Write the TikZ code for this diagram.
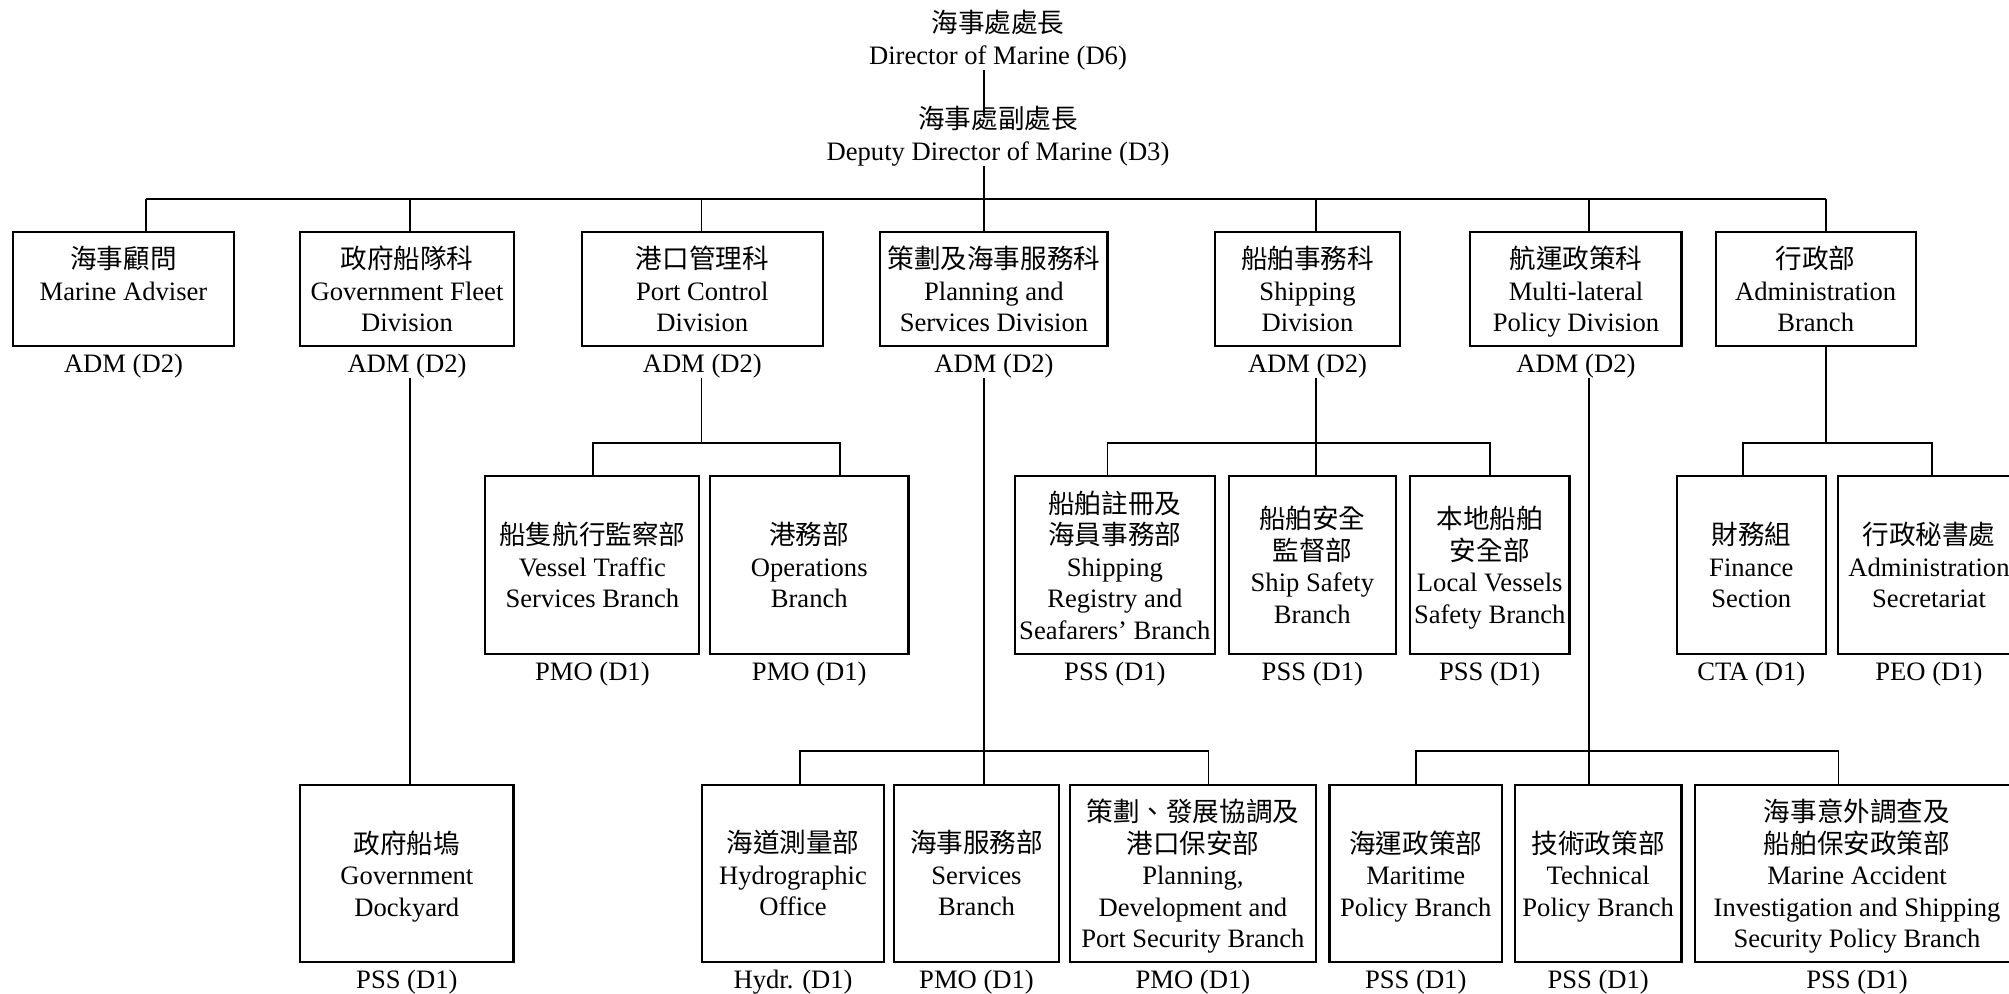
\documentclass[tikz,border=0pt]{standalone}
\usepackage{fontspec}
\setmainfont{Liberation Serif}
\newfontfamily\cjk{Noto Sans CJK TC}
\newcommand\zh[1]{{\cjk #1}}
\newcommand\nd[1]{\raisebox{0pt}[\height][0pt]{#1}}
\newcommand\mkbox[6]{%
  \pgfmathsetmacro\bxcx{(#2+#3)/2}%
  \pgfmathsetmacro\bxcy{(#4+#5)/2}%
  \pgfmathsetmacro\bxw{(#3-#2)/2}%
  \pgfmathsetmacro\bxh{(#5-#4)/2}%
  \node[orgbox, minimum width=\bxw pt, minimum height=\bxh pt] (#1) at (\bxcx,\bxcy) {#6};}
\newcommand\mklbl[3]{\node[lbl] (#1) at ([yshift=-9.5pt]#2.south) {#3};}
\tikzset{
  every node/.style={font=\fontsize{13.3pt}{15.75pt}\selectfont},
  conn/.style={line width=0.95pt},
  orgbox/.style={draw, line width=1.05pt, align=center, inner sep=0pt},
  txt/.style={align=center, inner sep=0pt, outer sep=0pt},
  lbl/.style={inner sep=0pt, outer sep=0pt}
}
\begin{document}
\begin{tikzpicture}[x=0.5pt, y=-0.5pt]
\useasboundingbox (0,0) rectangle (2009,993);
\clip (0,0) rectangle (2009,993);
\fill[white] (0,0) rectangle (2009,993);

% top
\node[txt] (dir) at (998,40) {\zh{海事處處長}\\Director of Marine (D6)};
\node[txt] (dep) at (998,136) {\zh{海事處副處長}\\Deputy Director of Marine (D3)};

% row 1
\mkbox{n1}{13}{234}{232}{346}{\zh{海事顧問}\\Marine Adviser\\\mbox{}}
\mkbox{n2}{300}{514}{232}{346}{\zh{政府船隊科}\\Government Fleet\\Division}
\mkbox{n3}{581.6}{823}{232}{346}{\zh{港口管理科}\\Port Control\\Division}
\mkbox{n4}{880.4}{1107.5}{232}{346}{\zh{策劃及海事服務科}\\Planning and\\Services Division}
\mkbox{n5}{1215}{1400}{232}{346}{\zh{船舶事務科}\\Shipping\\Division}
\mkbox{n6}{1470.4}{1681.5}{232}{346}{\zh{航運政策科}\\Multi-lateral\\\nd{Policy Division}}
\mkbox{n7}{1715.6}{1915.7}{232}{346}{\zh{行政部}\\Administration\\Branch}
\mklbl{n1l}{n1}{ADM (D2)}
\mklbl{n2l}{n2}{ADM (D2)}
\mklbl{n3l}{n3}{ADM (D2)}
\mklbl{n4l}{n4}{ADM (D2)}
\mklbl{n5l}{n5}{ADM (D2)}
\mklbl{n6l}{n6}{ADM (D2)}

% row 2
\mkbox{r2a}{485.4}{699.4}{476}{654}{\zh{船隻航行監察部}\\Vessel Traffic\\Services Branch}
\mkbox{r2b}{710}{908.5}{476}{654}{\zh{港務部}\\Operations\\Branch}
\mkbox{r2c}{1014.8}{1214.9}{476}{654}{\zh{船舶註冊及}\\\zh{海員事務部}\\Shipping\\Registry and\\Seafarers’ Branch}
\mkbox{r2d}{1229}{1395.7}{476}{654}{\zh{船舶安全}\\\zh{監督部}\\Ship Safety\\Branch}
\mkbox{r2e}{1409.9}{1569.5}{476}{654}{\zh{本地船舶}\\\zh{安全部}\\Local Vessels\\\nd{Safety Branch}}
\mkbox{r2f}{1677}{1825.6}{476}{654}{\zh{財務組}\\Finance\\Section}
\mkbox{r2g}{1838}{2020}{476}{654}{\zh{行政秘書處}\\Administration\\Secretariat}
\mklbl{r2al}{r2a}{PMO (D1)}
\mklbl{r2bl}{r2b}{PMO (D1)}
\mklbl{r2cl}{r2c}{PSS (D1)}
\mklbl{r2dl}{r2d}{PSS (D1)}
\mklbl{r2el}{r2e}{PSS (D1)}
\mklbl{r2fl}{r2f}{CTA (D1)}
\mklbl{r2gl}{r2g}{PEO (D1)}

% row 3
\mkbox{g1}{300.2}{513.5}{785}{961.7}{\zh{政府船塢}\\Government\\\nd{Dockyard}}
\mkbox{r3a}{702.2}{883.9}{785}{961.7}{\zh{海道測量部}\\Hydrographic\\Office}
\mkbox{r3b}{893.7}{1059.3}{785}{961.7}{\zh{海事服務部}\\Services\\Branch}
\mkbox{r3c}{1069.8}{1316}{785}{961.7}{\zh{策劃、發展協調及}\\\zh{港口保安部}\\Planning,\\Development and\\\nd{Port Security Branch}}
\mkbox{r3d}{1329.5}{1502}{785}{961.7}{\zh{海運政策部}\\Maritime\\\nd{Policy Branch}}
\mkbox{r3e}{1514.8}{1681.5}{785}{961.7}{\zh{技術政策部}\\Technical\\\nd{Policy Branch}}
\mkbox{r3f}{1695}{2019}{785}{961.7}{\zh{海事意外調查及}\\\zh{船舶保安政策部}\\Marine Accident\\Investigation and Shipping\\\nd{Security Policy Branch}}
\mklbl{g1l}{g1}{PSS (D1)}
\mklbl{r3al}{r3a}{Hydr. (D1)}
\mklbl{r3bl}{r3b}{PMO (D1)}
\mklbl{r3cl}{r3c}{PMO (D1)}
\mklbl{r3dl}{r3d}{PSS (D1)}
\mklbl{r3el}{r3e}{PSS (D1)}
\mklbl{r3fl}{r3f}{PSS (D1)}

% bus coordinates
\coordinate (b1) at (146,199);
\coordinate (b2) at (410,199);
\coordinate (b3) at (701.5,199);
\coordinate (b4) at (984,199);
\coordinate (b5) at (1316,199);
\coordinate (b6) at (1588.8,199);
\coordinate (b7) at (1825.6,199);
\coordinate (p3a) at (592.8,442.7);
\coordinate (p3b) at (839.7,442.7);
\coordinate (p5a) at (1107.5,442.7);
\coordinate (p5c) at (1489.7,442.7);
\coordinate (p7a) at (1743.3,442.7);
\coordinate (p7c) at (1931.8,442.7);
\coordinate (p4a) at (799.7,750.7);
\coordinate (p4c) at (1208.5,750.7);
\coordinate (p6a) at (1415.7,750.7);
\coordinate (p6c) at (1838.5,750.7);

% connectors: top
\draw[conn] (dir.south -| b4) -- (dep.north -| b4);
\draw[conn] (dep.south -| b4) -- (b4);
\draw[conn] (b1) -- (b7);
\foreach \i in {1,...,7} {\draw[conn] (b\i) -- (b\i |- n\i.north);}

% Government Fleet
\draw[conn] (n2l.south -| b2) -- (b2 |- g1.north);
% Port Control
\draw[conn] (n3l.south -| b3) -- (b3 |- p3a);
\draw[conn] (p3a |- r2a.north) -- (p3a) -- (p3b) -- (p3b |- r2b.north);
% Planning and Services
\draw[conn] (n4l.south -| b4) -- (b4 |- r3b.north);
\draw[conn] (p4a |- r3a.north) -- (p4a) -- (p4c) -- (p4c |- r3c.north);
% Shipping
\draw[conn] (n5l.south -| b5) -- (b5 |- r2d.north);
\draw[conn] (p5a |- r2c.north) -- (p5a) -- (p5c) -- (p5c |- r2e.north);
% Multi-lateral
\draw[conn] (n6l.south -| b6) -- (b6 |- r3e.north);
\draw[conn] (p6a |- r3d.north) -- (p6a) -- (p6c) -- (p6c |- r3f.north);
% Administration
\draw[conn] (n7.south -| b7) -- (b7 |- p7a);
\draw[conn] (p7a |- r2f.north) -- (p7a) -- (p7c) -- (p7c |- r2g.north);
\end{tikzpicture}
\end{document}
